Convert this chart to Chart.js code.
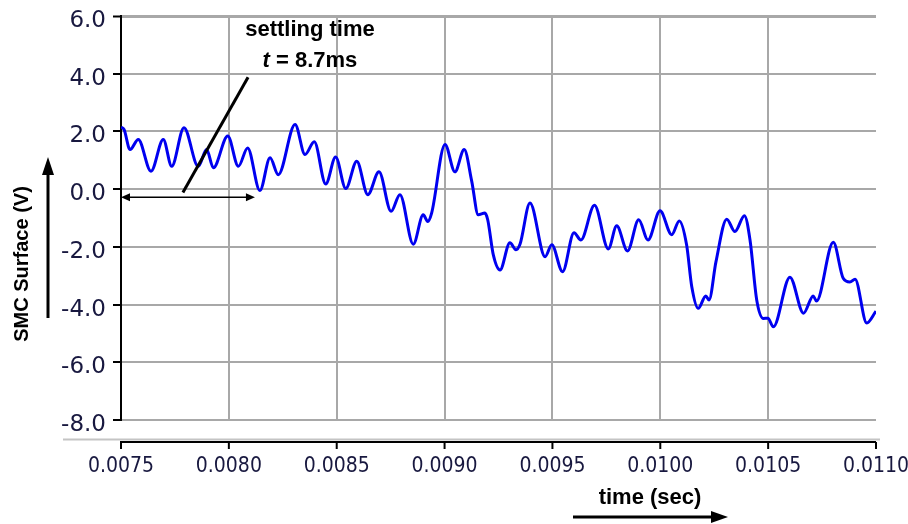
<!DOCTYPE html>
<html>
<head>
<meta charset="utf-8">
<script src="https://cdn.jsdelivr.net/npm/chart.js@4.4.1/dist/chart.umd.min.js"></script>
<style>
  html, body { margin: 0; padding: 0; background: #fff; }
  canvas { display: block; }
</style>
</head>
<body>
<canvas id="smcChart" width="908" height="524"></canvas>
<script>
// turning points of the sliding surface trace
const times = [
  0.007500, 0.007514, 0.007542, 0.007580, 0.007639, 0.007696, 0.007735, 0.007792, 0.007858, 0.007897,
  0.007928, 0.007995, 0.008044, 0.008087, 0.008144, 0.008191, 0.008229, 0.008307, 0.008353, 0.008396,
  0.008449, 0.008495, 0.008542, 0.008593, 0.008644, 0.008696, 0.008752, 0.008793, 0.008855, 0.008901,
  0.008922, 0.008940, 0.009002, 0.009048, 0.009091, 0.009126, 0.009156, 0.009187, 0.009200, 0.009226,
  0.009257, 0.009303, 0.009331, 0.009350, 0.009396, 0.009466, 0.009497, 0.009547, 0.009600, 0.009632,
  0.009695, 0.009759, 0.009798, 0.009848, 0.009900, 0.009943, 0.009999, 0.010053, 0.010088, 0.010122,
  0.010146, 0.010176, 0.010211, 0.010226, 0.010258, 0.010308, 0.010346, 0.010390, 0.010416, 0.010447,
  0.010478, 0.010499, 0.010524, 0.010601, 0.010664, 0.010709, 0.010724, 0.010802, 0.010848, 0.010879,
  0.010903, 0.010957, 0.011000
];
const volts = [
  2.15, 2.07, 1.37, 1.72, 0.62, 1.72, 0.79, 2.13, 0.79, 1.37,
  0.74, 1.84, 0.79, 1.43, -0.05, 1.09, 0.50, 2.24, 1.20, 1.64,
  0.18, 1.11, 0.02, 0.97, -0.19, 0.60, -0.77, -0.19, -1.91, -0.89,
  -1.12, -0.83, 1.55, 0.60, 1.37, 0.27, -0.89, -0.83, -1.06, -2.28,
  -2.80, -1.86, -2.10, -1.90, -0.48, -2.34, -1.93, -2.86, -1.51, -1.76,
  -0.56, -2.07, -1.27, -2.14, -1.06, -1.76, -0.75, -1.58, -1.10, -1.93,
  -3.38, -4.13, -3.70, -3.84, -2.52, -1.04, -1.47, -0.92, -1.76, -3.84,
  -4.48, -4.47, -4.77, -3.05, -4.30, -3.70, -3.88, -1.84, -3.09, -3.22,
  -3.12, -4.64, -4.23
];

const xTickValues = [0.0075, 0.0080, 0.0085, 0.0090, 0.0095, 0.0100, 0.0105, 0.0110];
const yTickValues = [-8, -6, -4, -2, 0, 2, 4, 6];

// settling time annotation (data units)
const settleStart = 0.0075;
const settleEnd = 0.008121;
const settleLevel = -0.28;
const pointerFrom = [0.007787, -0.12];
const pointerTo = [0.008089, 3.88];
const labelAt = [0.008376, 5.30, 4.23];

const GRID = "#a8a8a8";
const TICK_TEXT = "#18183f";
const BOLD = "'Liberation Sans', Arial, sans-serif";

function line(ctx, x1, y1, x2, y2) {
  ctx.beginPath();
  ctx.moveTo(x1, y1);
  ctx.lineTo(x2, y2);
  ctx.stroke();
}

function arrowHead(ctx, x, y, angle, len, half) {
  ctx.save();
  ctx.translate(x, y);
  ctx.rotate(angle);
  ctx.beginPath();
  ctx.moveTo(0, 0);
  ctx.lineTo(-len, -half);
  ctx.lineTo(-len, half);
  ctx.closePath();
  ctx.fill();
  ctx.restore();
}

const decorations = {
  id: "decorations",
  afterDraw(chart) {
    const { ctx, chartArea: a, scales: { x, y } } = chart;
    ctx.save();
    ctx.lineCap = "butt";

    // detached x axis under the plot
    ctx.strokeStyle = "#c4c4c4";
    ctx.lineWidth = 2;
    line(ctx, 63, a.bottom + 19.5, a.right + 4, a.bottom + 19.5);
    const axisY = a.bottom + 22;
    ctx.strokeStyle = "#000";
    line(ctx, a.left, axisY, a.right, axisY);
    xTickValues.forEach((v) => {
      const px = x.getPixelForValue(v);
      line(ctx, px, axisY - (v === xTickValues[0] ? 1 : 0), px, axisY + 7);
    });

    ctx.fillStyle = "#000";
    ctx.textAlign = "center";
    ctx.textBaseline = "middle";

    // y title + arrow
    ctx.save();
    ctx.translate(22, 264);
    ctx.rotate(-Math.PI / 2);
    ctx.font = "bold 20px " + BOLD;
    ctx.fillText("SMC Surface (V)", 0, 0);
    ctx.restore();
    ctx.lineWidth = 3;
    line(ctx, 48, 318, 48, 172);
    arrowHead(ctx, 48, 157, -Math.PI / 2, 18, 6);

    // x title + arrow
    ctx.font = "bold 22px " + BOLD;
    ctx.fillText("time (sec)", 650, 498);
    line(ctx, 573, 517, 712, 517);
    arrowHead(ctx, 728, 517, 0, 17, 6);

    // settling time pointer
    ctx.lineWidth = 3;
    line(ctx, x.getPixelForValue(pointerFrom[0]), y.getPixelForValue(pointerFrom[1]),
      x.getPixelForValue(pointerTo[0]), y.getPixelForValue(pointerTo[1]));

    const sy = y.getPixelForValue(settleLevel);
    const sx1 = x.getPixelForValue(settleStart);
    const sx2 = x.getPixelForValue(settleEnd);
    ctx.lineWidth = 1.5;
    line(ctx, sx1 + 6, sy, sx2 - 6, sy);
    arrowHead(ctx, sx1, sy, Math.PI, 9, 4);
    arrowHead(ctx, sx2, sy, 0, 9, 4);

    const cx = x.getPixelForValue(labelAt[0]);
    ctx.textBaseline = "alphabetic";
    ctx.font = "bold 22px " + BOLD;
    ctx.fillText("settling time", cx, y.getPixelForValue(labelAt[1]));
    const rest = " = 8.7ms";
    ctx.font = "italic bold 22px " + BOLD;
    const wt = ctx.measureText("t").width;
    ctx.font = "bold 22px " + BOLD;
    const wr = ctx.measureText(rest).width;
    const left = cx - (wt + wr) / 2;
    const by = y.getPixelForValue(labelAt[2]);
    ctx.textAlign = "left";
    ctx.font = "italic bold 22px " + BOLD;
    ctx.fillText("t", left, by);
    ctx.font = "bold 22px " + BOLD;
    ctx.fillText(rest, left + wt, by);

    ctx.restore();
  }
};

new Chart(document.getElementById("smcChart"), {
  type: "line",
  data: {
    datasets: [{
      data: times.map((t, i) => ({ x: t, y: volts[i] })),
      borderColor: "#0000f0",
      borderWidth: 3,
      pointRadius: 0,
      fill: false,
      cubicInterpolationMode: "monotone"
    }]
  },
  options: {
    responsive: false,
    animation: false,
    layout: { padding: { top: 16, right: 32, left: 0, bottom: 0 } },
    plugins: { legend: { display: false }, tooltip: { enabled: false } },
    scales: {
      x: {
        type: "linear",
        min: 0.0075,
        max: 0.011,
        afterBuildTicks: (s) => { s.ticks = xTickValues.map((v) => ({ value: v })); },
        afterFit: (s) => { s.height = 104; s.paddingLeft = 0; s.paddingRight = 0; },
        border: { display: false },
        grid: {
          drawTicks: false,
          lineWidth: 2,
          color: (c) => (c.tick && c.tick.value > 0.01099 ? "rgba(0,0,0,0)" : GRID)
        },
        ticks: {
          autoSkip: false,
          maxRotation: 0,
          padding: 34,
          color: TICK_TEXT,
          font: { family: "'DejaVu Sans Condensed', sans-serif", size: 21 },
          callback: (v) => Number(v).toFixed(4)
        }
      },
      y: {
        min: -8,
        max: 6,
        afterBuildTicks: (s) => { s.ticks = yTickValues.map((v) => ({ value: v })); },
        afterFit: (s) => { s.width = 121; s.paddingTop = 0; s.paddingBottom = 0; },
        border: { display: true, color: "#000", width: 2 },
        grid: {
          color: GRID,
          lineWidth: (c) => (c.tick && c.tick.value === 6 ? 3 : 2),
          drawTicks: true,
          tickLength: 8,
          tickColor: "#000",
          tickWidth: 2
        },
        ticks: {
          padding: 7,
          labelOffset: 5,
          color: TICK_TEXT,
          font: { family: "'DejaVu Sans', sans-serif", size: 23 },
          callback: (v) => Number(v).toFixed(1)
        }
      }
    }
  },
  plugins: [decorations]
});
</script>
</body>
</html>
